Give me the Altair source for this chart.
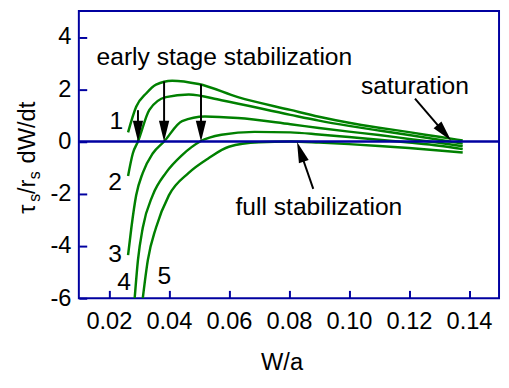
import math
import altair as alt
import pandas as pd

# ---------------- data ----------------
curve_names = ["1", "2", "3", "4", "5"]

c1_x = [0.0264, 0.0291, 0.0325, 0.0357, 0.0411, 0.0499, 0.0630, 0.0805, 0.090, 0.100, 0.110, 0.120, 0.130, 0.1379]
c1_y = [0.35, 1.33, 1.85, 2.18, 2.33, 2.20, 1.70, 1.21, 0.95, 0.72, 0.53, 0.36, 0.18, 0.04]

c2_x = [0.0264, 0.0280, 0.0297, 0.0335, 0.0390, 0.0466, 0.0575, 0.0805, 0.090, 0.100, 0.110, 0.120, 0.130, 0.1379]
c2_y = [-1.32, -0.45, 0.00, 1.21, 1.70, 1.80, 1.58, 1.02, 0.80, 0.60, 0.42, 0.25, 0.07, -0.08]

c3_x = [0.0264, 0.0275, 0.0291, 0.0313, 0.0346, 0.0384, 0.0444, 0.0520, 0.0630, 0.0805, 0.090, 0.100, 0.110, 0.120, 0.130, 0.1379]
c3_y = [-4.35, -3.30, -2.06, -1.20, -0.46, 0.00, 0.78, 0.96, 0.90, 0.66, 0.52, 0.38, 0.25, 0.10, -0.05, -0.18]

c4_x = [0.0286, 0.0297, 0.0313, 0.0346, 0.0390, 0.0444, 0.0504, 0.0575, 0.0685, 0.0805, 0.090, 0.100, 0.110, 0.120, 0.130, 0.1379]
c4_y = [-6.00, -4.53, -3.30, -2.06, -1.20, -0.52, 0.00, 0.26, 0.37, 0.35, 0.27, 0.17, 0.07, -0.04, -0.16, -0.29]

c5_x = [0.0313, 0.0330, 0.0357, 0.0400, 0.0466, 0.0532, 0.0600, 0.0700, 0.0805, 0.090, 0.100, 0.110, 0.120, 0.130, 0.1379]
c5_y = [-6.00, -4.53, -3.30, -2.06, -1.20, -0.64, -0.20, -0.03, 0.00, -0.04, -0.10, -0.17, -0.25, -0.34, -0.42]

# curve number labels
num_text = ["1", "2", "3", "4", "5"]
num_x = [0.0225, 0.0221, 0.0221, 0.0251, 0.0385]
num_y = [0.78, -1.55, -4.30, -5.40, -5.15]

# annotation texts (left aligned, baseline)
ann_text = ["early stage stabilization", "saturation", "full stabilization"]
ann_x = [0.0159, 0.1040, 0.0622]
ann_y = [2.93, 1.81, -2.80]

# arrows: tail -> tip
arr_x1 = [0.0297, 0.0384, 0.0507, 0.1220, 0.0881]
arr_y1 = [1.20, 2.30, 2.19, 1.64, -1.81]
arr_x2 = [0.0297, 0.0384, 0.0507, 0.1340, 0.0827]
arr_y2 = [0.00, 0.00, 0.00, 0.04, -0.02]

# axis ticks
x_major = [0.02, 0.04, 0.06, 0.08, 0.10, 0.12, 0.14]
y_major = [-6, -4, -2, 0, 2, 4]

# ---------------- layout ----------------
W, H = 427, 292
X0, X1 = 0.01, 0.15
Y0, Y1 = -6, 5
AXIS = "#0000A0"
GREEN = "#008000"
FONT = "Arial"
FS = 24
FS_ANN = 25
TICK = 8

xs = alt.Scale(domain=[X0, X1], nice=False, zero=False)
ys = alt.Scale(domain=[Y0, Y1], nice=False, zero=False)

rows = []
for name, cx, cy in zip(curve_names, [c1_x, c2_x, c3_x, c4_x, c5_x], [c1_y, c2_y, c3_y, c4_y, c5_y]):
    for i, (a, b) in enumerate(zip(cx, cy)):
        rows.append({"curve": name, "i": i, "x": a, "y": b})
df = pd.DataFrame(rows)

pxx = W / (X1 - X0)
pxy = H / (Y1 - Y0)

# arrow shafts and heads
HEAD = 21.0
seg_rows = []
head_rows = []
for a, b, c, d in zip(arr_x1, arr_y1, arr_x2, arr_y2):
    dx = (c - a) * pxx
    dy = -(d - b) * pxy
    L = math.hypot(dx, dy)
    ux, uy = dx / L, dy / L
    back = HEAD - 6
    ex = c - ux * back / pxx
    ey = d + uy * back / pxy
    theta = math.degrees(math.atan2(ux, -uy))
    rot = (theta - 180.0) % 360.0
    seg_rows.append({"x": a, "y": b, "x2": ex, "y2": ey})
    head_rows.append({"x": c, "y": d, "rot": rot})
seg_df = pd.DataFrame(seg_rows)
head_df = pd.DataFrame(head_rows)

num_df = pd.DataFrame({"t": num_text, "x": num_x, "y": num_y})
ann_df = pd.DataFrame({"t": ann_text, "x": ann_x, "y": ann_y})

label_expr_y = "datum.value < 0 ? '-' + format(-datum.value, 'd') : format(datum.value, 'd')"

# axes shifted inward by the tick length so the ticks point into the plot
lines = alt.Chart(df).mark_line(color=GREEN, strokeWidth=2.5, clip=True, interpolate="monotone").encode(
    x=alt.X("x:Q", scale=xs, axis=alt.Axis(
        orient="bottom", values=x_major, format=".2f", labelPadding=12,
        ticks=True, tickSize=TICK, tickWidth=2, tickColor=AXIS, offset=-TICK, domain=False,
        title="W/a", titleX=206, titleY=72 + TICK, titleBaseline="alphabetic", titleAlign="center")),
    y=alt.Y("y:Q", scale=ys, axis=alt.Axis(
        orient="left", values=y_major, labelExpr=label_expr_y, labelPadding=8,
        ticks=True, tickSize=TICK, tickWidth=2, tickColor=AXIS, offset=-TICK, domain=False,
        title="")),
    detail="curve:N",
    order="i:Q",
)

zero = alt.Chart(pd.DataFrame({"y": [0.0]})).mark_rule(color=AXIS, strokeWidth=2.5).encode(
    y=alt.Y("y:Q", scale=ys)
)

segs = alt.Chart(seg_df).mark_rule(strokeWidth=2, color="black").encode(
    x=alt.X("x:Q", scale=xs),
    y=alt.Y("y:Q", scale=ys),
    x2="x2:Q",
    y2="y2:Q",
)

heads = alt.Chart(head_df).mark_point(
    shape="M0,0 L-0.5,-2 L0.5,-2 Z", filled=True, color="black", opacity=1, size=HEAD * HEAD, strokeWidth=0
).encode(
    x=alt.X("x:Q", scale=xs),
    y=alt.Y("y:Q", scale=ys),
    angle=alt.Angle("rot:Q", scale=None),
)

nums = alt.Chart(num_df).mark_text(font=FONT, fontSize=FS_ANN, color="black", align="center", baseline="middle").encode(
    x=alt.X("x:Q", scale=xs),
    y=alt.Y("y:Q", scale=ys),
    text="t:N",
)

anns = alt.Chart(ann_df).mark_text(font=FONT, fontSize=FS_ANN, color="black", align="left", baseline="alphabetic").encode(
    x=alt.X("x:Q", scale=xs),
    y=alt.Y("y:Q", scale=ys),
    text="t:N",
)

# rotated y-axis title with subscripts, built from pieces (reading bottom to top)
SUB = 16
MAIN_BASE = -45
SUB_BASE = -39


def title_piece(txt, size, xpix, ypix):
    return alt.Chart(pd.DataFrame({"t": [txt]})).mark_text(
        font=FONT, fontSize=size, color="black", angle=270, align="left", baseline="alphabetic"
    ).encode(text="t:N", x=alt.value(xpix), y=alt.value(ypix))


ytitle = [
    title_piece("τ", FS, MAIN_BASE, 206),
    title_piece("s", SUB, SUB_BASE, 194),
    title_piece("/r", FS, MAIN_BASE, 186),
    title_piece("s", SUB, SUB_BASE, 171),
    title_piece("dW/dt", FS, MAIN_BASE, 155),
]

chart = alt.layer(
    lines, zero, segs, heads, nums, anns, *ytitle
).properties(
    width=W, height=H,
    autosize=alt.AutoSizeParams(type="none"),
    padding={"left": 72, "top": 0, "right": 2, "bottom": 74},
).configure_axis(
    grid=False,
    labelFont=FONT, labelFontSize=FS, labelColor="black",
    labelFlush=False, labelOverlap=False,
    titleFont=FONT, titleFontSize=FS, titleFontWeight="normal", titleColor="black",
).configure_view(
    stroke=AXIS, strokeWidth=2
)

chart.save("out.html", embed_options={"renderer": "svg", "actions": False})
